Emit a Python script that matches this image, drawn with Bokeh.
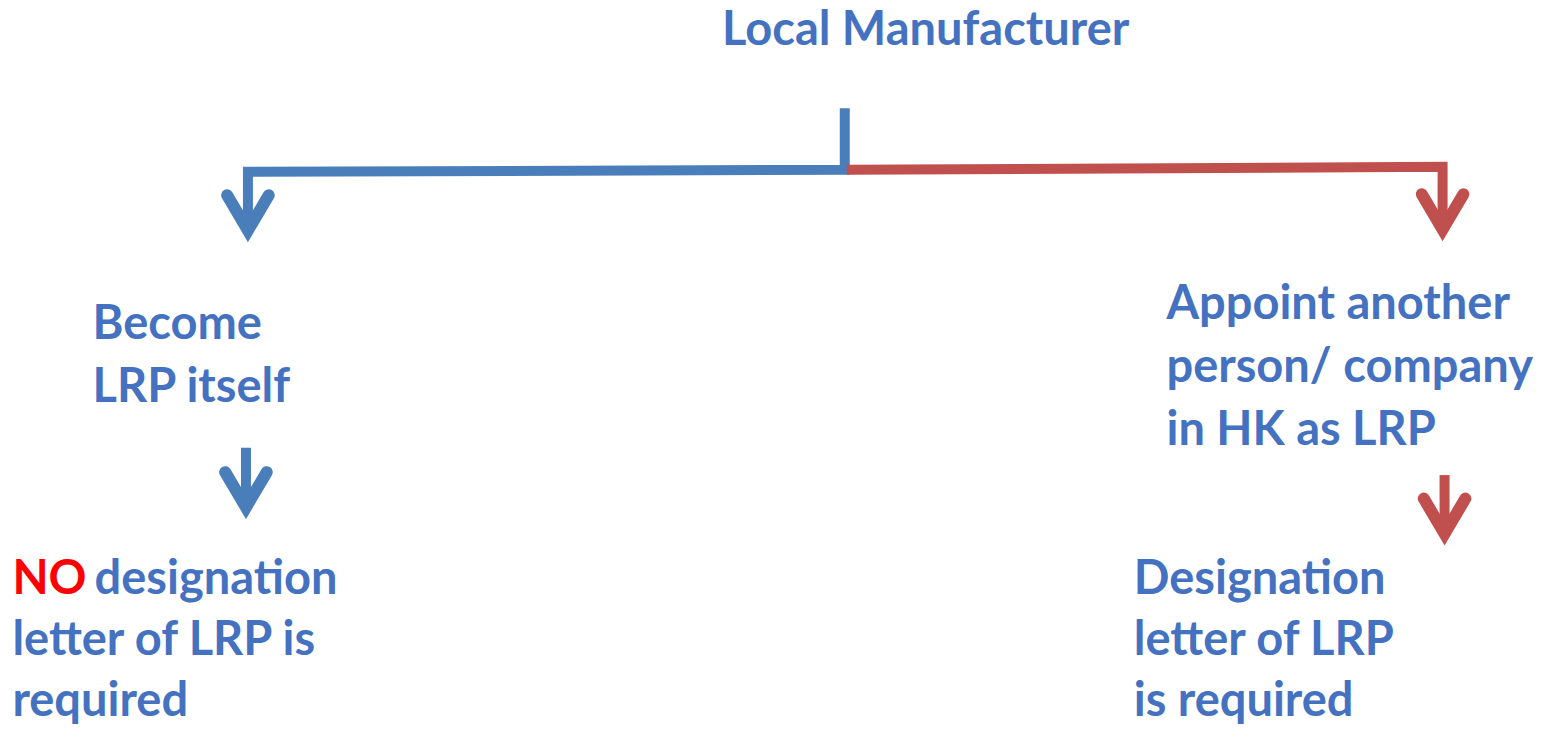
from bokeh.plotting import figure
from bokeh.models import Range1d
from bokeh.core.properties import value
from bokeh.embed import file_html
from bokeh.resources import INLINE

# ---- diagram data (reference pixel coordinates) ----
title_text = ["Local Manufacturer"]
title_x = [729]
title_y = [47]

left_text = ["Become", "LRP itself"]
left_x = [93, 93]
left_y = [347, 411]

left_result_emph = ["NO"]
left_result_emph_x = [12]
left_result_emph_y = [608]
left_result_text = ["designation", "letter of LRP is", "required"]
left_result_x = [95, 12, 12]
left_result_y = [608, 670, 732]

right_text = ["Appoint another", "person/ company", "in HK as LRP"]
right_x = [1178, 1178, 1178]
right_y = [327, 391, 455]

right_result_text = ["Designation", "letter of LRP", "is required"]
right_result_x = [1145, 1145, 1145]
right_result_y = [608, 670, 732]

# connector paths: trunk + branch, ending at the arrow shaft
blue_path_x = [853, 853, 250, 250]
blue_path_y = [110, 173, 175, 205]
red_path_x = [855, 1457, 1457]
red_path_y = [173, 170, 205]

# standalone arrows: x, top of shaft, tip
arrow2_x = [248, 1459]
arrow2_top = [457, 485]
arrow2_tip = [530, 557]
arrow2_color = ["#4a7ebb", "#c0504d"]

# tips of the branch arrows
arrow1_x = [250, 1457]
arrow1_tip = [247, 246]
arrow1_color = ["#4a7ebb", "#c0504d"]

BLUE = "#4a7ebb"
RED = "#c0504d"
TEXT_BLUE = "#4472c0"
FONT = "Lato"
FS = "47px"

p = figure(width=1547, height=729, output_backend="svg", toolbar_location=None,
           x_range=Range1d(0, 1563), y_range=Range1d(745, 0),
           min_border=0)
p.axis.visible = False
p.grid.visible = False
p.outline_line_color = None
p.background_fill_color = "white"
p.border_fill_color = "white"

HEAD_W = 21
HEAD_H = 36
MITER = 12


def head(x, tip, color):
    vy = tip - MITER
    p.line([x - HEAD_W, x, x + HEAD_W], [vy - HEAD_H, vy, vy - HEAD_H],
           line_color=color, line_width=12, line_join="miter", line_cap="round")


# connector lines
p.line(blue_path_x[:-1] + [blue_path_x[-1]], blue_path_y[:-1] + [arrow1_tip[0] - MITER - 2],
       line_color=BLUE, line_width=10, line_join="miter")
p.line(red_path_x[:-1] + [red_path_x[-1]], red_path_y[:-1] + [arrow1_tip[1] - MITER - 2],
       line_color=RED, line_width=10, line_join="miter")
for x, tip, c in zip(arrow1_x, arrow1_tip, arrow1_color):
    head(x, tip, c)

for x, top, tip, c in zip(arrow2_x, arrow2_top, arrow2_tip, arrow2_color):
    p.line([x, x], [top, tip - MITER - 2], line_color=c, line_width=10)
    head(x, tip, c)


def txt(xs, ys, texts, color, style="bold"):
    p.text(x=xs, y=ys, text=texts, text_color=color, text_font=value(FONT),
           text_font_size=FS, text_font_style=style, y_offset=-19,
           text_align="left", text_baseline="alphabetic")


txt(title_x, title_y, title_text, TEXT_BLUE)
txt(left_x, left_y, left_text, TEXT_BLUE)
txt(left_result_emph_x, left_result_emph_y, left_result_emph, "#ff0000")
txt(left_result_x, left_result_y, left_result_text, TEXT_BLUE)
txt(right_x, right_y, right_text, TEXT_BLUE)
txt(right_result_x, right_result_y, right_result_text, TEXT_BLUE)

open("out.html", "w").write(file_html(p, INLINE))
